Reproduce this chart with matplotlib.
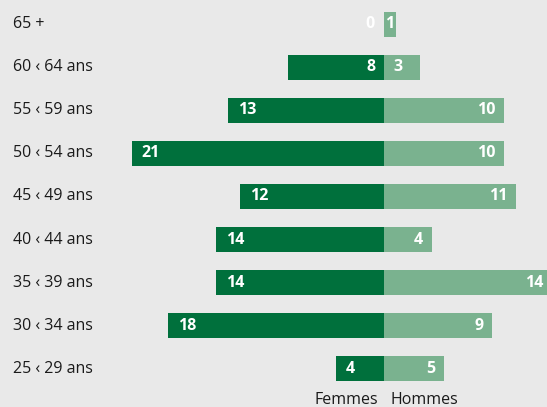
import matplotlib
matplotlib.use("Agg")
import matplotlib.pyplot as plt
import matplotlib.transforms as mtransforms

categories = ["65 +", "60 \u2039 64 ans", "55 \u2039 59 ans", "50 \u2039 54 ans", "45 \u2039 49 ans",
              "40 \u2039 44 ans", "35 \u2039 39 ans", "30 \u2039 34 ans", "25 \u2039 29 ans"]
femmes = [0, 8, 13, 21, 12, 14, 14, 18, 4]
hommes = [1, 3, 10, 10, 11, 4, 14, 9, 5]
legend_labels = ["Femmes", "Hommes"]

bg = "#e9e9e9"
dark = "#00703c"
light = "#7ab28f"

fig = plt.figure(figsize=(5.47, 4.07), dpi=100, facecolor=bg)
ax = fig.add_axes([0, 0, 1, 1], facecolor=bg)

ypos = list(range(len(categories)))
ax.barh(ypos, [-v for v in femmes], height=0.58, color=dark, left=0)
ax.barh(ypos, hommes, height=0.58, color=light, left=0)

ax.set_xlim(-32, 13.58)
ax.set_ylim(8.886, -0.557)
ax.axis("off")

lbl_font = dict(family=["Open Sans", "DejaVu Sans"], fontweight="bold", fontsize=11.5, color="white")
for i, (f, h) in enumerate(zip(femmes, hommes)):
    if f == 0 or f == 8:
        ax.text(-0.75, i, str(f), ha="right", va="center", **lbl_font)
    else:
        ax.text(-f + 0.8, i, str(f), ha="left", va="center", **lbl_font)
    if h <= 1:
        ax.text(h / 2, i, str(h), ha="center", va="center", **lbl_font)
    elif h <= 3:
        ax.text(0.75, i, str(h), ha="left", va="center", **lbl_font)
    else:
        ax.text(h - 0.75, i, str(h), ha="right", va="center", **lbl_font)

trans = mtransforms.blended_transform_factory(ax.transAxes, ax.transData)
tick_font = dict(family=["Open Sans", "DejaVu Sans"], fontsize=11.5, color="#1a1a1a")
for i, c in enumerate(categories):
    ax.text(13 / 547, i, c, transform=trans, ha="left", va="center", **tick_font)

ax.text(-0.5, 8.72, legend_labels[0], ha="right", va="center", **tick_font)
ax.text(0.5, 8.72, legend_labels[1], ha="left", va="center", **tick_font)

fig.savefig("out.png", dpi=100, facecolor=bg)
